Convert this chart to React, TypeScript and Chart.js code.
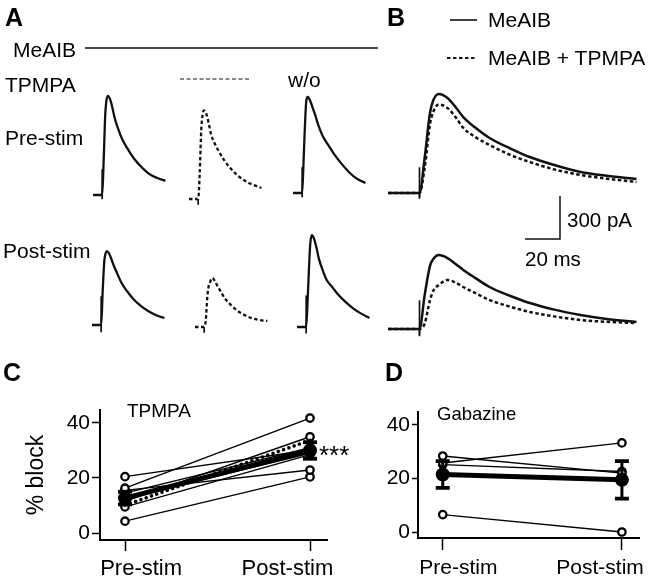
import React, { useEffect, useRef } from 'react';
import { Chart, registerables } from 'chart.js';

Chart.register(...registerables);

const FONT = '"Liberation Sans", Arial, Helvetica, sans-serif';
const INK = '#111';

// ---------------- Trace data (time in ms, current in pA) ----------------
const traceTime = [0, 18, 21, 24, 26, 29, 34, 39, 43, 50, 58, 70, 81, 95, 110, 125, 142];
const preMeAIB = [0, 0, 250, 560, 650, 691, 663, 593, 530, 455, 384, 310, 251, 195, 147, 120, 98];
const preTPMPA = [0, 0, 180, 480, 570, 618, 593, 523, 454, 390, 335, 265, 216, 165, 126, 100, 77];
const postMeAIB = [0, 0, 240, 440, 490, 516, 495, 450, 412, 355, 293, 230, 181, 135, 98, 70, 49];
const postTPMPA = [0, 0, 40, 202, 270, 307, 342, 321, 293, 250, 202, 155, 119, 88, 63, 50, 42];
const preWashout = [0, 0, 250, 520, 640, 670, 640, 590, 550, 470, 400, 330, 270, 205, 145, 100, 70];
const postWashout = [0, 0, 200, 450, 580, 640, 610, 540, 475, 400, 330, 275, 225, 175, 130, 95, 63];

const stimTime = 18;
const artifactPre = [180, -30];
const artifactPost = [200, -50];
const artifactWashoutPost = [220, -45];
const artifactTPMPA = [0, -40];

const scaleBarMs = 20;
const scaleBarPa = 300;

// ---------------- Group data (% block) ----------------
const conditions = ['Pre-stim', 'Post-stim'];
const yTicks = [0, 20, 40];
const tpmpaPre = [20.5, 16.3, 15.5, 14.5, 12.5, 11.5, 9.5, 4.3];
const tpmpaPost = [30.2, 41.8, 22.9, 31.0, 29.0, 35.0, 28.5, 20.4];
const tpmpaExample = [10.1, 33.7];
const tpmpaMean = [12.7, 30.0];
const tpmpaSem = [2.3, 3.0];
const gabazinePre = [28.4, 25.8, 25.2, 6.5];
const gabazinePost = [22.0, 33.3, 22.6, 0.0];
const gabazineMean = [21.5, 19.5];
const gabazineSem = [5.0, 7.0];

// label positions along the condition axis (labels sit slightly inward of the ticks)
const labelPositions = [0.087, 0.878];

// ---------------- layout constants ----------------
const PX_PER_PA = 43 / 300;
const PX_PER_MS_A = 0.51;
const PX_PER_MS_B = 1.75;

const baseOptions: any = {
  animation: false,
  responsive: false,
  maintainAspectRatio: false,
  events: [],
  plugins: { legend: { display: false }, tooltip: { enabled: false }, title: { display: false } },
};

function ChartCanvas({ left, top, width, height, build }: any) {
  const ref = useRef<HTMLCanvasElement>(null);
  useEffect(() => {
    const chart = new Chart(ref.current as HTMLCanvasElement, build());
    return () => chart.destroy();
  }, []);
  return (
    <canvas
      ref={ref}
      width={width}
      height={height}
      style={{ position: 'absolute', left, top, width, height }}
    />
  );
}

type Trace = { values: number[]; artifact: number[]; dashed?: boolean };

function TracePanel({ x0, y0, pxPerMs, w, up, down, traces, lw = 2.3 }: any) {
  const pad = 6;
  const build = () => {
    const datasets: any[] = [];
    (traces as Trace[]).forEach((tr) => {
      datasets.push({
        data: traceTime.map((t, i) => ({ x: t, y: tr.values[i] })),
        borderColor: INK,
        borderWidth: lw,
        borderDash: tr.dashed ? [3.5, 2.5] : [],
        pointRadius: 0,
        cubicInterpolationMode: 'monotone',
        fill: false,
      });
      datasets.push({
        data: [0, tr.artifact[0], tr.artifact[1], 0].map((v) => ({ x: stimTime, y: v })),
        borderColor: INK,
        borderWidth: 1.7,
        pointRadius: 0,
        tension: 0,
        fill: false,
      });
    });
    return {
      type: 'line',
      data: { datasets },
      options: {
        ...baseOptions,
        layout: { padding: 0 },
        scales: {
          x: { type: 'linear', display: false, min: -pad / pxPerMs, max: (w + pad) / pxPerMs },
          y: { type: 'linear', display: false, min: -down / PX_PER_PA, max: up / PX_PER_PA },
        },
      },
    };
  };
  return <ChartCanvas left={x0 - pad} top={y0 - up} width={w + 2 * pad} height={up + down} build={build} />;
}

function ScaleBar({ x0, y0 }: any) {
  const pad = 3;
  const wPx = scaleBarMs * PX_PER_MS_B;
  const hPx = scaleBarPa * PX_PER_PA;
  const build = () => ({
    type: 'line',
    data: {
      datasets: [
        {
          data: [
            { x: 0, y: 0 },
            { x: scaleBarMs, y: 0 },
            { x: scaleBarMs, y: scaleBarPa },
          ],
          borderColor: INK,
          borderWidth: 1.5,
          pointRadius: 0,
          tension: 0,
        },
      ],
    },
    options: {
      ...baseOptions,
      layout: { padding: 0 },
      scales: {
        x: { type: 'linear', display: false, min: -pad / PX_PER_MS_B, max: (wPx + pad) / PX_PER_MS_B },
        y: { type: 'linear', display: false, min: -pad / PX_PER_PA, max: (hPx + pad) / PX_PER_PA },
      },
    },
  });
  return <ChartCanvas left={x0 - pad} top={y0 - hPx - pad} width={wPx + 2 * pad} height={hPx + 2 * pad} build={build} />;
}

function GroupPanel(props: any) {
  const {
    left, top, width, height, area, preX, postX, y0px, y40px,
    pre, post, mean, sem, filled, example, yTitle, tickFont, labelFont,
    yTickLen, xTickLen, labelPad, titlePad,
  } = props;
  const unit = postX - preX;
  const xMin = -(preX - area.left) / unit;
  const xMax = 1 + (area.right - postX) / unit;
  const yPx = (y0px - y40px) / 40;
  const yMin = -(area.bottom - y0px) / yPx;
  const yMax = 40 + (y40px - area.top) / yPx;

  const build = () => {
    const datasets: any[] = [];
    datasets.push({
      data: [0, 1].map((i) => ({ x: i, y: mean[i] })),
      borderColor: '#000',
      borderWidth: 5,
      pointRadius: 4.5,
      pointBackgroundColor: '#000',
      pointBorderColor: '#000',
      order: 0,
    });
    [0, 1].forEach((i) =>
      datasets.push({
        data: [
          { x: i, y: mean[i] - sem[i] },
          { x: i, y: mean[i] + sem[i] },
        ],
        borderColor: '#000',
        borderWidth: 3,
        pointStyle: 'line',
        pointRadius: 7,
        pointBorderWidth: 3.8,
        pointBorderColor: '#000',
        tension: 0,
        order: 0,
      })
    );
    if (example) {
      datasets.push({
        data: [0, 1].map((i) => ({ x: i, y: example[i] })),
        borderColor: '#000',
        borderWidth: 3.5,
        borderDash: [0.1, 5.5],
        borderCapStyle: 'round',
        pointRadius: 0,
        order: 1,
      });
    }
    (pre as number[]).forEach((p, k) =>
      datasets.push({
        data: [
          { x: 0, y: p },
          { x: 1, y: post[k] },
        ],
        borderColor: '#000',
        borderWidth: 1.4,
        pointRadius: 3.7,
        pointBorderWidth: 2.3,
        pointBackgroundColor: filled.includes(k) ? '#000' : '#fff',
        pointBorderColor: '#000',
        order: 2,
      })
    );

    const labelAxisHeight = height - (area.bottom - top) - xTickLen;
    return {
      type: 'line',
      data: { datasets },
      options: {
        ...baseOptions,
        layout: { padding: { top: area.top - top, right: left + width - area.right, left: 0, bottom: 0 } },
        scales: {
          x: {
            type: 'linear',
            position: 'bottom',
            weight: 0,
            min: xMin,
            max: xMax,
            afterFit: (s: any) => { s.height = xTickLen; },
            afterBuildTicks: (s: any) => { s.ticks = conditions.map((_, i) => ({ value: i })); },
            ticks: { display: false },
            grid: { display: true, drawOnChartArea: false, drawTicks: true, tickLength: xTickLen, tickWidth: 1.5, tickColor: '#000' },
            border: { display: true, color: '#000', width: 2 },
          },
          xLabels: {
            type: 'linear',
            position: 'bottom',
            weight: 1,
            min: xMin,
            max: xMax,
            afterFit: (s: any) => { s.height = labelAxisHeight; },
            afterBuildTicks: (s: any) => { s.ticks = labelPositions.map((v) => ({ value: v })); },
            ticks: {
              callback: (_v: any, i: number) => conditions[i],
              font: { family: FONT, size: labelFont },
              color: '#000',
              padding: labelPad,
              maxRotation: 0,
              autoSkip: false,
            },
            grid: { display: false, drawTicks: false },
            border: { display: false },
          },
          y: {
            type: 'linear',
            position: 'left',
            min: yMin,
            max: yMax,
            afterFit: (s: any) => { s.width = area.left - left; },
            afterBuildTicks: (s: any) => { s.ticks = yTicks.map((v) => ({ value: v })); },
            ticks: { font: { family: FONT, size: tickFont }, color: '#000', padding: 2 },
            grid: { display: true, drawOnChartArea: false, drawTicks: true, tickLength: yTickLen, tickWidth: 1.5, tickColor: '#000' },
            border: { display: true, color: '#000', width: 2 },
            title: yTitle
              ? { display: true, text: yTitle, font: { family: FONT, size: 23 }, color: '#000', padding: { top: titlePad, bottom: 0 } }
              : { display: false },
          },
        },
      },
    };
  };
  return <ChartCanvas left={left} top={top} width={width} height={height} build={build} />;
}

function Label({ x, capTop, size, bold = false, children }: any) {
  return (
    <div
      style={{
        position: 'absolute',
        left: x,
        top: capTop - 0.13 * size,
        fontFamily: FONT,
        fontSize: size,
        lineHeight: `${size}px`,
        fontWeight: bold ? 700 : 400,
        color: '#000',
        whiteSpace: 'nowrap',
      }}
    >
      {children}
    </div>
  );
}

export default function App() {
  return (
    <div
      style={{
        position: 'absolute',
        left: 0,
        top: 0,
        width: 652,
        height: 581,
        overflow: 'hidden',
        background: '#fff',
      }}
    >
      {/* Panel A traces */}
      <TracePanel x0={93} y0={195} pxPerMs={PX_PER_MS_A} w={80} up={110} down={14} traces={[{ values: preMeAIB, artifact: artifactPre }]} />
      <TracePanel x0={189} y0={199} pxPerMs={PX_PER_MS_A} w={80} up={110} down={14} traces={[{ values: preTPMPA, artifact: artifactTPMPA, dashed: true }]} />
      <TracePanel x0={293} y0={193} pxPerMs={PX_PER_MS_A} w={80} up={110} down={14} traces={[{ values: preWashout, artifact: artifactPre }]} />
      <TracePanel x0={92} y0={325} pxPerMs={PX_PER_MS_A} w={80} up={105} down={14} traces={[{ values: postMeAIB, artifact: artifactPost }]} />
      <TracePanel x0={195} y0={327} pxPerMs={PX_PER_MS_A} w={80} up={105} down={14} traces={[{ values: postTPMPA, artifact: artifactTPMPA, dashed: true }]} />
      <TracePanel x0={297} y0={327} pxPerMs={PX_PER_MS_A} w={80} up={105} down={14} traces={[{ values: postWashout, artifact: artifactWashoutPost }]} />

      {/* Panel B traces */}
      <TracePanel
        x0={388} y0={193} pxPerMs={PX_PER_MS_B} w={255} up={115} down={14} lw={2.5}
        traces={[
          { values: preMeAIB, artifact: artifactPre },
          { values: preTPMPA, artifact: artifactTPMPA, dashed: true },
        ]}
      />
      <TracePanel
        x0={388} y0={329} pxPerMs={PX_PER_MS_B} w={255} up={110} down={20} lw={2.5}
        traces={[
          { values: postMeAIB, artifact: artifactPost },
          { values: postTPMPA, artifact: artifactTPMPA, dashed: true },
        ]}
      />
      <ScaleBar x0={525} y0={239} />

      {/* Panel C */}
      <GroupPanel
        left={0} top={395} width={345} height={186}
        area={{ left: 100, right: 327, top: 410, bottom: 540 }}
        preX={125} postX={310} y0px={533} y40px={423}
        pre={tpmpaPre} post={tpmpaPost} mean={tpmpaMean} sem={tpmpaSem}
        filled={[]} example={tpmpaExample}
        yTitle="% block" titlePad={23}
        tickFont={21} labelFont={22} yTickLen={8} xTickLen={11} labelPad={5}
      />
      {/* Panel D */}
      <GroupPanel
        left={340} top={395} width={312} height={186}
        area={{ left: 418, right: 642, top: 412, bottom: 538 }}
        preX={443} postX={624} y0px={532} y40px={425}
        pre={gabazinePre} post={gabazinePost} mean={gabazineMean} sem={gabazineSem}
        filled={[2]} example={null}
        yTitle={null} titlePad={0}
        tickFont={21} labelFont={21} yTickLen={6} xTickLen={12} labelPad={6}
      />

      {/* condition bars and legend lines */}
      <svg width={652} height={581} style={{ position: 'absolute', left: 0, top: 0, pointerEvents: 'none' }}>
        <line x1={85} y1={48} x2={378} y2={48} stroke={INK} strokeWidth={1.6} />
        <line x1={180} y1={79} x2={250} y2={79} stroke={INK} strokeWidth={1.2} strokeDasharray="4 2.5" />
        <line x1={450} y1={20} x2={477} y2={20} stroke={INK} strokeWidth={1.6} />
        <line x1={447} y1={58} x2={477} y2={58} stroke={INK} strokeWidth={2} strokeDasharray="3.5 2.5" />
      </svg>

      {/* Texts */}
      <Label x={5} capTop={8} size={25} bold>A</Label>
      <Label x={387} capTop={8} size={25} bold>B</Label>
      <Label x={3} capTop={363} size={25} bold>C</Label>
      <Label x={385} capTop={363} size={25} bold>D</Label>

      <Label x={13} capTop={42} size={21}>MeAIB</Label>
      <Label x={5} capTop={77} size={21}>TPMPA</Label>
      <Label x={288} capTop={72} size={21}>w/o</Label>
      <Label x={5} capTop={130} size={21}>Pre-stim</Label>
      <Label x={3} capTop={243} size={21}>Post-stim</Label>

      <Label x={488} capTop={12} size={21}>MeAIB</Label>
      <Label x={488} capTop={50} size={21}>MeAIB + TPMPA</Label>
      <Label x={567} capTop={213} size={20.5}>300 pA</Label>
      <Label x={525} capTop={252} size={20.5}>20 ms</Label>

      <Label x={127} capTop={403} size={19}>TPMPA</Label>
      <Label x={437} capTop={407} size={18.5}>Gabazine</Label>
      <Label x={319} capTop={445} size={26}>***</Label>
    </div>
  );
}
